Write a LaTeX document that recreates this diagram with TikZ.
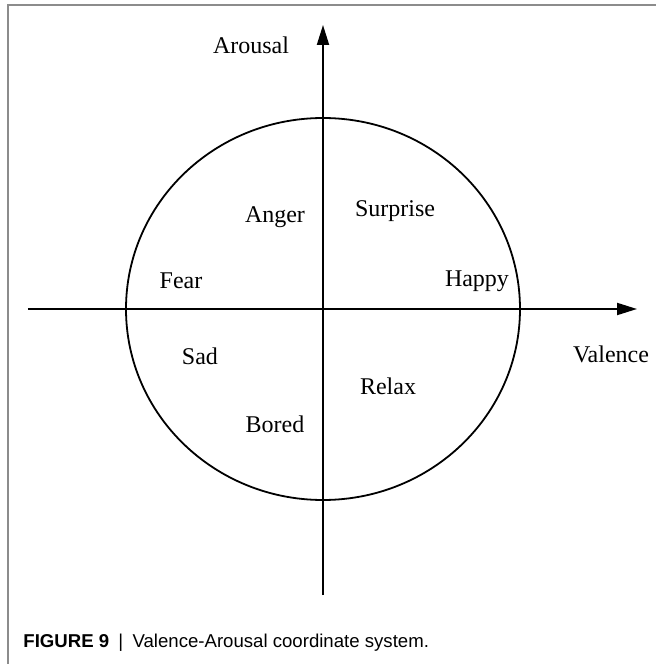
\documentclass[tikz,border=0pt]{standalone}
\usepackage{fontspec}
\setmainfont{Liberation Serif}
\newfontfamily\capfont{Liberation Sans}
\usetikzlibrary{arrows.meta}
\begin{document}
\begin{tikzpicture}[x=0.5pt,y=0.5pt,
  emo/.style={font=\fontsize{12}{14}\selectfont, inner sep=0pt},
  axis/.style={line width=1pt,-{Triangle[length=10pt,width=6pt]}}]
\useasboundingbox (-323,309) rectangle (333,-355);
% frame
\draw[gray!90,line width=0.8pt] (-315,-355) -- (-315,304) -- (333,304);
% circle
\draw[line width=0.9pt] (0,0) ellipse [x radius=197, y radius=191];
% axes
\coordinate (vl) at (-295,0);
\coordinate (vr) at (314,0);
\coordinate (ab) at (0,-286);
\coordinate (at) at (0,284);
\draw[axis] (vl) -- (vr);
\draw[axis] (ab) -- (at);
% labels
\node[emo] (arousal) at (-72,264) {Arousal};
\node[emo] (valence) at (288,-45) {Valence};
\node[emo] (anger) at (-48,92) {Anger};
\node[emo] (surprise) at (72,98) {Surprise};
\node[emo] (fear) at (-142,28) {Fear};
\node[emo] (happy) at (154,28) {Happy};
\node[emo] (sad) at (-123,-47) {Sad};
\node[emo] (relax) at (65,-77) {Relax};
\node[emo] (bored) at (-48,-115) {Bored};
% caption
\node[anchor=base west, inner sep=0pt, font=\capfont\fontsize{9.3}{11}\selectfont] (cap) at (-300,-338)
  {\textbf{FIGURE 9}\enspace|\enspace Valence-Arousal coordinate system.};
\end{tikzpicture}
\end{document}
